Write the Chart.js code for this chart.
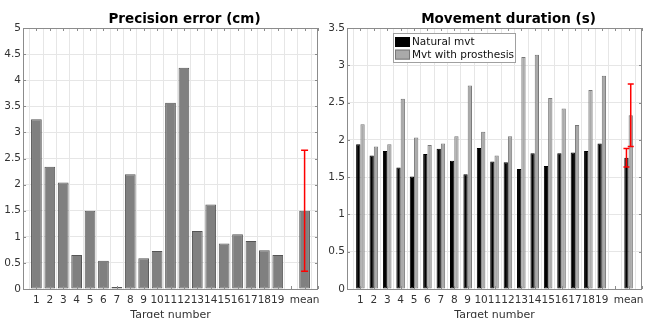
<!DOCTYPE html>
<html>
<head>
<meta charset="utf-8">
<script src="https://cdn.jsdelivr.net/npm/chart.js@4"></script>
<style>
  html, body { margin: 0; padding: 0; background: #fff; }
  #wrap { position: relative; width: 647px; height: 318px; }
  #left { position: absolute; left: 0; top: 0; }
  #right { position: absolute; left: 323px; top: 0; }
</style>
</head>
<body>
<div id="wrap">
  <canvas id="left" width="323" height="318"></canvas>
  <canvas id="right" width="324" height="318"></canvas>
</div>
<script>
// values
const targets = ['1','2','3','4','5','6','7','8','9','10','11','12','13','14','15','16','17','18','19'];
const meanLabel = 'mean';

const precisionError = [3.25, 2.34, 2.04, 0.65, 1.50, 0.54, 0.04, 2.20, 0.59, 0.73, 3.57, 4.24, 1.11, 1.62, 0.87, 1.05, 0.92, 0.74, 0.65];
const precisionMean = 1.50;
const precisionStd = 1.16;

const naturalDuration = [1.94, 1.79, 1.85, 1.63, 1.51, 1.81, 1.88, 1.72, 1.54, 1.89, 1.71, 1.70, 1.61, 1.82, 1.65, 1.82, 1.83, 1.85, 1.95];
const naturalMean = 1.76;
const naturalStd = 0.125;

const prosthesisDuration = [2.21, 1.91, 1.94, 2.55, 2.03, 1.93, 1.95, 2.05, 2.73, 2.11, 1.79, 2.05, 3.11, 3.14, 2.56, 2.42, 2.20, 2.67, 2.86];
const prosthesisMean = 2.33;
const prosthesisStd = 0.42;

const leftTitle = 'Precision error (cm)';
const rightTitle = 'Movement duration (s)';
const xTitle = 'Target number';
const seriesNames = ['Natural mvt', 'Mvt with prosthesis'];

Chart.defaults.font.family = "'DejaVu Sans', sans-serif";
Chart.defaults.color = '#333';

// axis runs 0..22 like the matlab xlim, so pad both ends plus the empty slot before "mean"
const xLabels = [''].concat(targets, ['', meanLabel, '']);
const meanIndex = xLabels.indexOf(meanLabel);
const pad = (vals, m) => [null].concat(vals, [null, m, null]);

const boxColor = '#8c8c8c';
const gridColor = '#e6e6e6';

// box around the axes with small inward ticks, titles, error bars and legend
const matlabLook = {
  id: 'matlabLook',
  afterDatasetsDraw(chart, args, opts) {
    const ctx = chart.ctx;
    const a = chart.chartArea;
    const xs = chart.scales.x, ys = chart.scales.y;
    ctx.save();

    // error bars
    ctx.strokeStyle = 'rgb(255,0,0)';
    ctx.lineWidth = 1.5;
    (opts.errors || []).forEach(e => {
      const el = chart.getDatasetMeta(e.dataset).data[meanIndex];
      const x = el.x;
      const yTop = ys.getPixelForValue(e.mean + e.std);
      const yBot = ys.getPixelForValue(e.mean - e.std);
      const c = e.cap;
      ctx.beginPath();
      ctx.moveTo(x, yTop); ctx.lineTo(x, yBot);
      ctx.moveTo(x - c, yTop); ctx.lineTo(x + c, yTop);
      ctx.moveTo(x - c, yBot); ctx.lineTo(x + c, yBot);
      ctx.stroke();
    });

    // box
    ctx.strokeStyle = boxColor;
    ctx.lineWidth = 1;
    ctx.strokeRect(Math.round(a.left) + 0.5, Math.round(a.top) + 0.5, Math.round(a.right - a.left) - 1, Math.round(a.bottom - a.top));
    ctx.beginPath();
    xs.ticks.forEach((t, i) => {
      const px = Math.round(xs.getPixelForTick(i)) + 0.5;
      ctx.moveTo(px, a.top); ctx.lineTo(px, a.top + 3);
      ctx.moveTo(px, a.bottom); ctx.lineTo(px, a.bottom - 3);
    });
    ys.ticks.forEach((t, i) => {
      const py = Math.round(ys.getPixelForTick(i)) + 0.5;
      ctx.moveTo(a.left, py); ctx.lineTo(a.left + 3, py);
      ctx.moveTo(a.right, py); ctx.lineTo(a.right - 3, py);
    });
    ctx.stroke();

    // title
    ctx.fillStyle = '#000';
    ctx.font = "bold 13.5px 'DejaVu Sans'";
    ctx.textAlign = 'center';
    ctx.textBaseline = 'alphabetic';
    ctx.fillText(opts.title, (a.left + a.right) / 2 + 14, 23);

    // legend (right chart only)
    if (opts.legend) {
      const lx = a.left + 46, ly = 33, lw = 122, lh = 29;
      ctx.fillStyle = '#fff';
      ctx.fillRect(lx, ly, lw, lh);
      ctx.strokeStyle = '#a0a0a0';
      ctx.strokeRect(lx + 0.5, ly + 0.5, lw, lh);
      ctx.font = "10.5px 'DejaVu Sans'";
      ctx.textAlign = 'left';
      ctx.textBaseline = 'middle';
      chart.data.datasets.forEach((ds, i) => {
        const sy = ly + 4 + i * 12.6;
        ctx.fillStyle = ds.backgroundColor;
        ctx.fillRect(lx + 2, sy, 15, 10);
        ctx.strokeStyle = ds.borderColor;
        ctx.strokeRect(lx + 2.5, sy + 0.5, 14, 9);
        ctx.fillStyle = '#111';
        ctx.fillText(ds.label, lx + 19, sy + 5.5);
      });
    }
    ctx.restore();
  }
};

function makeOptions(yMax, yWidth, extra) {
  return {
    responsive: false,
    animation: false,
    layout: { padding: { top: 28, right: 2, left: 0, bottom: 0 } },
    plugins: {
      legend: { display: false },
      tooltip: { enabled: false },
      matlabLook: extra
    },
    scales: {
      x: {
        type: 'category',
        offset: false,
        grid: { color: gridColor, drawTicks: false },
        border: { display: false },
        ticks: { autoSkip: false, maxRotation: 0, minRotation: 0, padding: 5, font: { size: 10.5 }, color: '#333' },
        title: { display: true, text: xTitle, font: { size: 11 }, color: '#333', padding: { top: 0, bottom: -4 } },
        afterFit: s => { s.height = 29; }
      },
      y: {
        min: 0,
        max: yMax,
        grid: { color: gridColor, drawTicks: false },
        border: { display: false },
        ticks: { stepSize: 0.5, padding: 2, font: { size: 10.5 }, color: '#333', callback: v => String(Number(v)) },
        afterFit: s => { s.width = yWidth; }
      }
    }
  };
}

new Chart(document.getElementById('left'), {
  type: 'bar',
  data: {
    labels: xLabels,
    datasets: [{
      label: leftTitle,
      data: pad(precisionError, precisionMean),
      backgroundColor: 'rgb(128,128,128)',
      borderColor: 'rgb(85,85,85)',
      borderWidth: 1,
      borderSkipped: false,
      barPercentage: 0.8,
      categoryPercentage: 1
    }]
  },
  options: makeOptions(5, 23, {
    title: leftTitle,
    errors: [{ dataset: 0, mean: precisionMean, std: precisionStd, cap: 3.5 }]
  }),
  plugins: [matlabLook]
});

new Chart(document.getElementById('right'), {
  type: 'bar',
  data: {
    labels: xLabels,
    datasets: [{
      label: seriesNames[0],
      data: pad(naturalDuration, naturalMean),
      backgroundColor: '#000',
      borderColor: '#000',
      borderWidth: 1,
      borderSkipped: false,
      barPercentage: 1,
      categoryPercentage: 0.64
    }, {
      label: seriesNames[1],
      data: pad(prosthesisDuration, prosthesisMean),
      backgroundColor: 'rgb(170,170,170)',
      borderColor: 'rgb(120,120,120)',
      borderWidth: 1,
      borderSkipped: false,
      barPercentage: 1,
      categoryPercentage: 0.64
    }]
  },
  options: makeOptions(3.5, 24, {
    title: rightTitle,
    legend: true,
    errors: [
      { dataset: 0, mean: naturalMean, std: naturalStd, cap: 3 },
      { dataset: 1, mean: prosthesisMean, std: prosthesisStd, cap: 3 }
    ]
  }),
  plugins: [matlabLook]
});
</script>
</body>
</html>
